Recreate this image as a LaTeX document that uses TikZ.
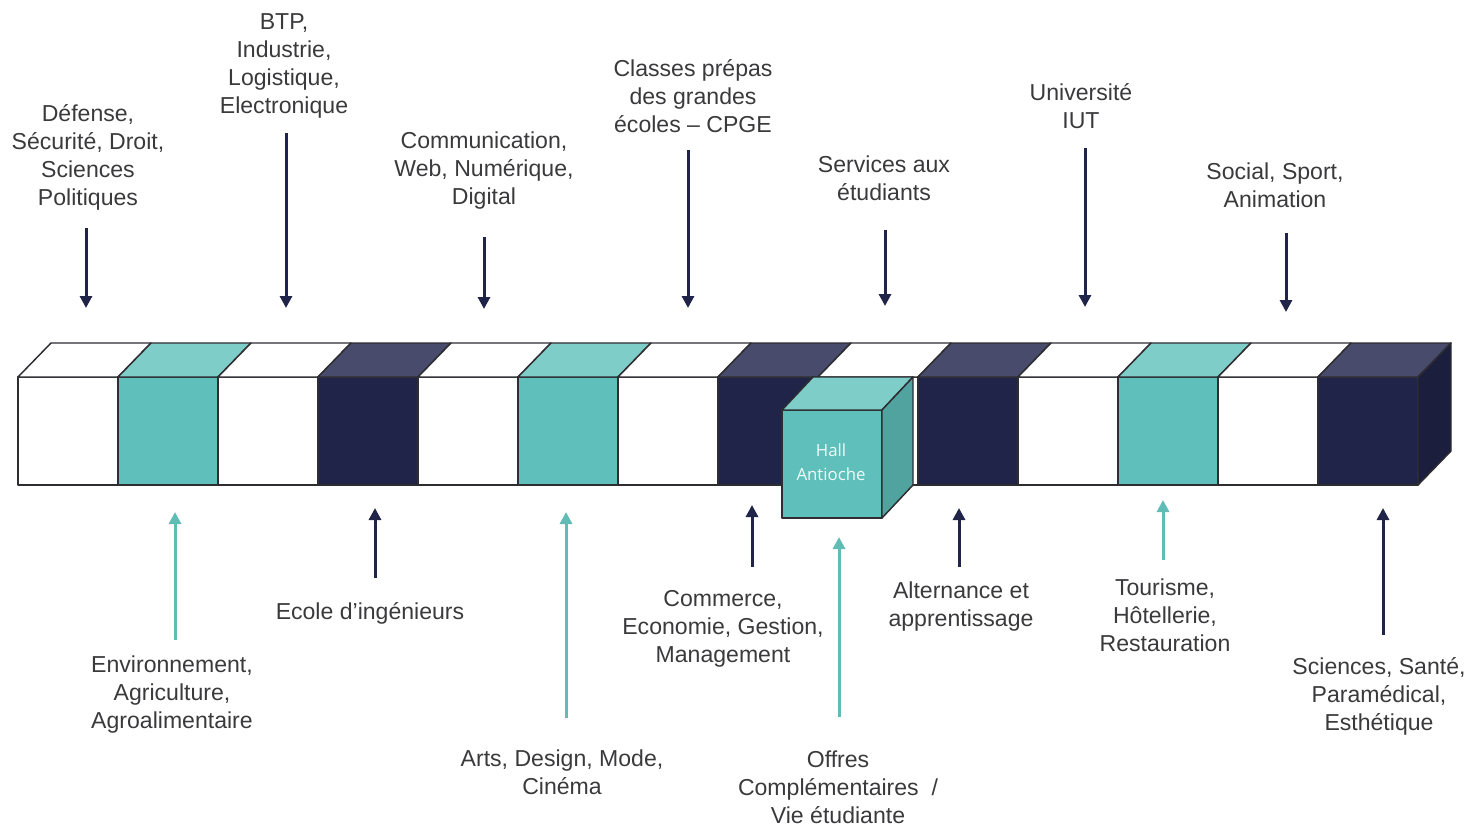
\documentclass[tikz,border=0pt]{standalone}
\usepackage{fontspec}
\setmainfont{Liberation Sans}
\newfontfamily\hallfont{Open Sans}
\usetikzlibrary{arrows.meta}

\definecolor{tealF}{RGB}{95,191,187}
\definecolor{tealT}{RGB}{127,205,201}
\definecolor{tealS}{RGB}{80,163,159}
\definecolor{navyF}{RGB}{31,36,72}
\definecolor{navyT}{RGB}{72,75,108}
\definecolor{navyS}{RGB}{27,30,60}
\definecolor{edge}{RGB}{45,45,50}
\definecolor{txt}{RGB}{58,58,60}
\definecolor{tealA}{RGB}{95,189,181}

\tikzset{every picture/.style={line width=0.75pt}}
\tikzset{
	face/.style={draw=edge, line width=1.1pt, line join=round},
	lbl/.style={align=center, inner sep=0.75pt, text=txt, font=\fontsize{17.3}{21}\selectfont},
	dnarrow/.style={draw=navyF, line width=2.25pt, -{Triangle[width=9pt,length=9pt]}},
	tlarrow/.style={draw=tealA, line width=2.25pt, -{Triangle[width=9pt,length=9pt]}}
}

\begin{document}
\begin{tikzpicture}[x=0.75pt,y=0.75pt,yscale=-1,xscale=1]
	\useasboundingbox (0,0) rectangle (1468,828);
	
	%row of blocks
	\foreach \i/\fc/\tc in {0/white/white,1/tealF/tealT,2/white/white,3/navyF/navyT,4/white/white,5/tealF/tealT,6/white/white,7/navyF/navyT,8/white/white,9/navyF/navyT,10/white/white,11/tealF/tealT,12/white/white,13/navyF/navyT}
	{
		\pgfmathsetmacro{\xa}{18+100*\i}
		\draw [face, fill=\fc] (\xa,377) rectangle ++(100,108) ;
		\draw [face, fill=\tc] (\xa,377) -- ++(33,-34) -- ++(100,0) -- ++(-33,34) -- cycle ;
	}
	\draw [face, fill=navyS] (1418,377) -- (1451,343) -- (1451,451) -- (1418,485) -- cycle ;
	
	%Hall Antioche block
	\draw [face, fill=tealF] (782,410) rectangle (882,518) ;
	\draw [face, fill=tealT] (782,410) -- (813,377) -- (913,377) -- (882,410) -- cycle ;
	\draw [face, fill=tealS] (882,410) -- (913,377) -- (913,485) -- (882,518) -- cycle ;
	\node (hall) at (831,462) [align=center, inner sep=0.75pt, text=white!92!tealF, font=\hallfont\fontsize{12.6}{18}\selectfont] {Hall\\Antioche};
	
	%labels above
	\node (def) at (88,157) [lbl] {Défense,\\Sécurité, Droit,\\Sciences\\Politiques};
	\node (btp) at (284,66) [lbl] {BTP,\\Industrie,\\Logistique,\\Electronique};
	\node (com) at (484,171) [lbl] {Communication,\\Web, Numérique,\\Digital};
	\node (cpge) at (693,96) [lbl] {Classes prépas\\des grandes\\écoles – CPGE};
	\node (serv) at (884,178) [lbl] {Services aux\\étudiants};
	\node (univ) at (1081,106) [lbl] {Université\\IUT};
	\node (soc) at (1275,185) [lbl] {Social, Sport,\\Animation};
	
	%labels below
	\node (env) at (172,695) [lbl] {Environnement,\\Agriculture,\\Agroalimentaire};
	\node (ing) at (370,613) [lbl] {Ecole d’ingénieurs};
	\node (arts) at (562,772) [lbl] {Arts, Design, Mode,\\Cinéma};
	\node (comm) at (723,629) [lbl] {Commerce,\\Economie, Gestion,\\Management};
	\node (offr) at (838,787) [lbl] {Offres\\Complémentaires~~/\\Vie étudiante};
	\node (alt) at (961,607) [lbl] {Alternance et\\apprentissage};
	\node (tour) at (1165,615) [lbl] {Tourisme,\\Hôtellerie,\\Restauration};
	\node (sci) at (1379,696) [lbl] {Sciences, Santé,\\Paramédical,\\Esthétique};
	
	%arrow ends
	\coordinate (def-a) at (86,228);   \coordinate (def-b) at (86,308);
	\coordinate (btp-a) at (286,133);  \coordinate (btp-b) at (286,308);
	\coordinate (com-a) at (484,237);  \coordinate (com-b) at (484,309);
	\coordinate (cpge-a) at (688,150); \coordinate (cpge-b) at (688,308);
	\coordinate (serv-a) at (885,230); \coordinate (serv-b) at (885,306);
	\coordinate (univ-a) at (1085,148); \coordinate (univ-b) at (1085,307);
	\coordinate (soc-a) at (1286,233); \coordinate (soc-b) at (1286,312);
	\coordinate (env-a) at (175,640);  \coordinate (env-b) at (175,512);
	\coordinate (ing-a) at (375,578);  \coordinate (ing-b) at (375,508);
	\coordinate (arts-a) at (566,718); \coordinate (arts-b) at (566,512);
	\coordinate (comm-a) at (752,567); \coordinate (comm-b) at (752,505);
	\coordinate (offr-a) at (839,717); \coordinate (offr-b) at (839,537);
	\coordinate (alt-a) at (959,567);  \coordinate (alt-b) at (959,508);
	\coordinate (tour-a) at (1163,560); \coordinate (tour-b) at (1163,500);
	\coordinate (sci-a) at (1383,635); \coordinate (sci-b) at (1383,508);
	
	\foreach \n in {def,btp,com,cpge,serv,univ,soc,ing,comm,alt,sci}
		\draw [dnarrow] (\n-a) -- (\n-b) ;
	\foreach \n in {env,arts,offr,tour}
		\draw [tlarrow] (\n-a) -- (\n-b) ;
	
\end{tikzpicture}
\end{document}
